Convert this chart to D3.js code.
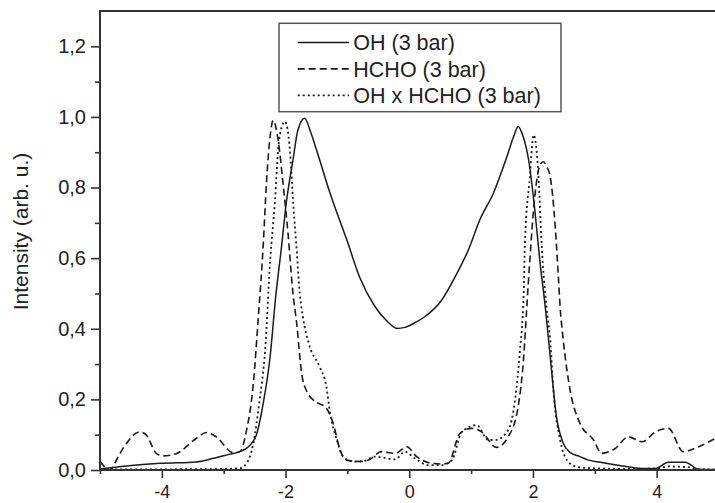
<!DOCTYPE html>
<html>
<head>
<meta charset="utf-8">
<script src="https://cdn.jsdelivr.net/npm/d3@7"></script>
<style>
  html, body { margin: 0; padding: 0; background: #fff; }
  svg { display: block; }
  text { font-family: "Liberation Sans", Arial, sans-serif; fill: #222; }
</style>
</head>
<body>
<svg id="chart" width="715" height="503"></svg>
<script>
// ---- data ----
const seriesNames = ["OH (3 bar)", "HCHO (3 bar)", "OH x HCHO (3 bar)"];

const ohX = [-5, -4.57, -4.03, -3.44, -3.17, -2.9, -2.74, -2.6, -2.47, -2.36, -2.25, -2.16, -2.06, -2.0, -1.88, -1.8, -1.69, -1.6, -1.5, -1.28, -1.01, -0.8, -0.555, -0.35, -0.2, -0.07, 0.1, 0.25, 0.52, 0.75, 0.955, 1.14, 1.36, 1.58, 1.7, 1.76, 1.83, 1.93, 2.03, 2.11, 2.2, 2.28, 2.38, 2.49, 2.6, 2.76, 2.9, 3.09, 3.4, 3.76, 3.98, 4.19, 4.46, 4.68, 5];
const ohY = [0.003, 0.011, 0.019, 0.023, 0.033, 0.045, 0.052, 0.066, 0.1, 0.19, 0.32, 0.49, 0.64, 0.74, 0.878, 0.963, 0.996, 0.96, 0.907, 0.784, 0.652, 0.545, 0.463, 0.42, 0.401, 0.404, 0.418, 0.434, 0.48, 0.55, 0.623, 0.708, 0.784, 0.888, 0.95, 0.973, 0.95, 0.878, 0.737, 0.595, 0.46, 0.32, 0.151, 0.076, 0.05, 0.038, 0.028, 0.022, 0.013, 0.004, 0.004, 0.022, 0.022, 0.002, 0.001];

const hchoX = [-5, -4.9, -4.84, -4.7, -4.57, -4.36, -4.25, -4.09, -3.98, -3.76, -3.44, -3.28, -3.12, -2.85, -2.74, -2.63, -2.52, -2.44, -2.36, -2.31, -2.25, -2.2, -2.12, -2.04, -1.96, -1.88, -1.82, -1.74, -1.65, -1.55, -1.34, -1.23, -1.12, -1.01, -0.8, -0.66, -0.45, -0.23, -0.04, 0.12, 0.36, 0.52, 0.63, 0.82, 1.01, 1.17, 1.41, 1.6, 1.76, 1.85, 1.9, 1.95, 2.01, 2.09, 2.13, 2.17, 2.22, 2.28, 2.36, 2.41, 2.44, 2.49, 2.6, 2.76, 2.98, 3.11, 3.33, 3.54, 3.76, 3.98, 4.19, 4.43, 4.68, 5];
const hchoY = [0.024, 0.005, 0.0, 0.04, 0.076, 0.108, 0.099, 0.047, 0.04, 0.047, 0.09, 0.106, 0.094, 0.049, 0.052, 0.113, 0.246, 0.434, 0.64, 0.81, 0.944, 0.99, 0.935, 0.81, 0.67, 0.5, 0.415, 0.274, 0.22, 0.198, 0.175, 0.132, 0.057, 0.028, 0.024, 0.028, 0.052, 0.047, 0.066, 0.038, 0.019, 0.017, 0.019, 0.104, 0.118, 0.108, 0.064, 0.094, 0.179, 0.32, 0.46, 0.595, 0.737, 0.85, 0.868, 0.873, 0.86, 0.83, 0.69, 0.55, 0.46, 0.368, 0.227, 0.132, 0.085, 0.047, 0.061, 0.094, 0.08, 0.108, 0.118, 0.052, 0.066, 0.095];

const prodX = [-5, -4, -3, -2.74, -2.63, -2.52, -2.42, -2.33, -2.25, -2.17, -2.12, -2.06, -2.01, -1.93, -1.88, -1.82, -1.77, -1.72, -1.61, -1.45, -1.34, -1.28, -1.17, -1.07, -0.91, -0.75, -0.555, -0.23, -0.07, 0.09, 0.31, 0.52, 0.69, 0.85, 1.09, 1.28, 1.39, 1.6, 1.71, 1.79, 1.85, 1.87, 1.95, 2.01, 2.09, 2.14, 2.22, 2.28, 2.33, 2.44, 2.55, 2.71, 2.98, 3.5, 4, 4.2, 4.5, 4.7, 5];
const prodY = [0.002, 0.002, 0.003, 0.005, 0.019, 0.076, 0.198, 0.34, 0.59, 0.765, 0.907, 0.973, 0.987, 0.907, 0.765, 0.623, 0.5, 0.434, 0.35, 0.293, 0.236, 0.161, 0.085, 0.038, 0.024, 0.025, 0.038, 0.03, 0.052, 0.033, 0.014, 0.014, 0.028, 0.108, 0.127, 0.085, 0.085, 0.113, 0.198, 0.34, 0.5, 0.64, 0.83, 0.949, 0.83, 0.64, 0.46, 0.368, 0.227, 0.085, 0.028, 0.009, 0.005, 0.003, 0.004, 0.01, 0.008, 0.002, 0.001];

const xTicks = [-4, -2, 0, 2, 4];
const xTickLabels = ["-4", "-2", "0", "2", "4"];
const xMinorTicks = [-5, -3, -1, 1, 3, 5];
const yTicks = [0, 0.2, 0.4, 0.6, 0.8, 1.0, 1.2];
const yTickLabels = ["0,0", "0,2", "0,4", "0,6", "0,8", "1,0", "1,2"];
const yMinorTicks = [0.1, 0.3, 0.5, 0.7, 0.9, 1.1];
const yTitle = "Intensity (arb. u.)";

// ---- layout ----
const svg = d3.select("#chart");
const pLeft = 100, pRight = 718.5, pTop = 11, pBottom = 470;
const x = d3.scaleLinear().domain([-5, 5]).range([pLeft, pRight]);
const y = d3.scaleLinear().domain([0, 1.3]).range([pBottom, pTop]);
const axisColor = "#333";

// frame (top and right)
svg.append("rect")
  .attr("x", pLeft).attr("y", pTop)
  .attr("width", pRight - pLeft).attr("height", pBottom - pTop)
  .attr("fill", "none").attr("stroke", axisColor).attr("stroke-width", 2);

// curves
const series = [
  { name: seriesNames[0], xs: ohX, ys: ohY, dash: null, width: 1.5 },
  { name: seriesNames[1], xs: hchoX, ys: hchoY, dash: "7,4", width: 1.6 },
  { name: seriesNames[2], xs: prodX, ys: prodY, dash: "2,3", width: 1.8 }
];
const line = d3.line()
  .x(d => x(d[0])).y(d => y(d[1]))
  .curve(d3.curveMonotoneX);

const plot = svg.append("g");
series.forEach(s => {
  const pts = s.xs.map((v, i) => [v, s.ys[i]]);
  plot.append("path")
    .datum(pts)
    .attr("d", line)
    .attr("fill", "none")
    .attr("stroke", "#1a1a1a")
    .attr("stroke-width", s.width)
    .attr("stroke-dasharray", s.dash);
});

// x axis
const xAxis = d3.axisBottom(x)
  .tickValues(xTicks)
  .tickFormat((d, i) => xTickLabels[i])
  .tickSize(8).tickPadding(7).tickSizeOuter(0);
const gx = svg.append("g").attr("transform", `translate(0,${pBottom})`).call(xAxis);
const gxMinor = svg.append("g").attr("transform", `translate(0,${pBottom})`)
  .call(d3.axisBottom(x).tickValues(xMinorTicks).tickFormat("").tickSize(4).tickSizeOuter(0));
gxMinor.select(".domain").remove();

// y axis
const yAxis = d3.axisLeft(y)
  .tickValues(yTicks)
  .tickFormat((d, i) => yTickLabels[i])
  .tickSize(9).tickPadding(5).tickSizeOuter(0);
const gy = svg.append("g").attr("transform", `translate(${pLeft},0)`).call(yAxis);
const gyMinor = svg.append("g").attr("transform", `translate(${pLeft},0)`)
  .call(d3.axisLeft(y).tickValues(yMinorTicks).tickFormat("").tickSize(5).tickSizeOuter(0));
gyMinor.select(".domain").remove();

[gx, gy, gxMinor, gyMinor].forEach(g => {
  g.selectAll(".domain").attr("stroke", axisColor).attr("stroke-width", 2);
  g.selectAll(".tick line").attr("stroke", axisColor).attr("stroke-width", 1.6);
  g.selectAll(".tick text")
    .attr("font-family", '"Liberation Sans", Arial, sans-serif')
    .attr("font-size", 20).attr("fill", "#222");
});
gx.selectAll(".tick text").attr("font-size", 18);
gy.select(".domain").attr("d", `M0,${pTop}V${pBottom}`);
gx.select(".domain").attr("d", `M${pLeft},0H${pRight}`);

// y title
svg.append("text")
  .attr("transform", `translate(27.5,${(pTop + pBottom) / 2 - 9}) rotate(-90)`)
  .attr("text-anchor", "middle")
  .attr("font-size", 21)
  .text(yTitle);

// legend
const lg = svg.append("g");
lg.append("rect")
  .attr("x", 279).attr("y", 23.3).attr("width", 282).attr("height", 88.4)
  .attr("fill", "#fff").attr("stroke", "#555").attr("stroke-width", 1.5);
series.forEach((s, i) => {
  const cy = 42.5 + i * 26.4;
  lg.append("line")
    .attr("x1", 297.7).attr("x2", 349).attr("y1", cy).attr("y2", cy)
    .attr("stroke", "#1a1a1a").attr("stroke-width", s.width)
    .attr("stroke-dasharray", s.dash);
  lg.append("text")
    .attr("x", 353.3).attr("y", cy + 7.7)
    .attr("font-size", 21.5)
    .text(s.name);
});
</script>
</body>
</html>
